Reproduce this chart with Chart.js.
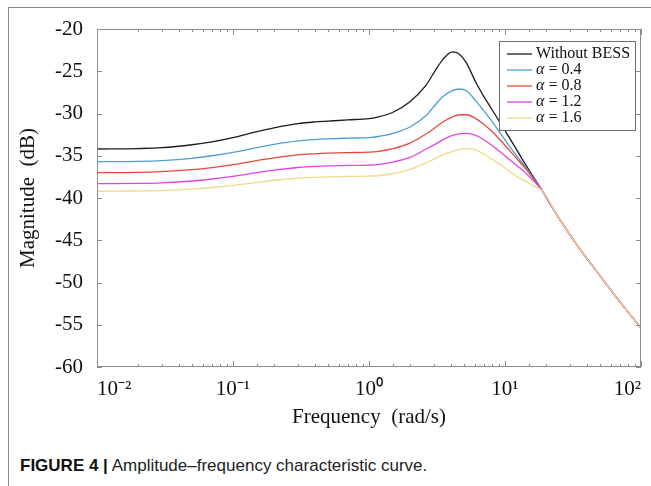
<!DOCTYPE html>
<html>
<head>
<meta charset="utf-8">
<script src="https://cdn.jsdelivr.net/npm/chart.js@4"></script>
<style>
  body { margin: 0; background: #fff; width: 651px; height: 486px; overflow: hidden; position: relative; }
  .frame { position: absolute; left: 8px; top: 7px; width: 700px; height: 520px; border-left: 1px solid #8a8a8a; border-top: 1px solid #8a8a8a; }
  #bode { position: absolute; left: 0; top: 0; }
  .caption { position: absolute; left: 20px; top: 456px; font-family: "Liberation Sans", Arial, sans-serif; font-size: 17px; color: #222; }
  .caption b { font-weight: bold; color: #111; }
</style>
</head>
<body>
<div class="frame"></div>
<canvas id="bode" width="651" height="430"></canvas>
<div class="caption"><b>FIGURE 4 |</b> Amplitude–frequency characteristic curve.</div>
<script>
// frequency points (rad/s)
const freq = [0.01, 0.02, 0.03, 0.05, 0.07, 0.1, 0.15, 0.2, 0.3, 0.4, 0.5, 0.7, 1, 1.14, 1.5, 2, 2.64, 3.1, 3.5, 4.1, 4.6, 5.2, 6.1, 7, 8, 9.3, 10.7, 12.3, 14.1, 16.3, 18.6, 24.5, 35, 50, 70, 100];

// magnitude (dB)
const noBess = [-34.2, -34.15, -34.05, -33.7, -33.35, -32.85, -32.15, -31.7, -31.2, -31.0, -30.9, -30.75, -30.6, -30.45, -29.85, -28.6, -26.6, -24.8, -23.6, -22.7, -22.95, -24.0, -26.3, -28.0, -29.5, -31.2, -32.8, -34.4, -36.0, -37.6, -39.05, -42.2, -45.9, -49.2, -52.3, -55.4];
const alpha04 = [-35.7, -35.66, -35.57, -35.3, -35.0, -34.6, -34.03, -33.65, -33.24, -33.08, -33.0, -32.92, -32.85, -32.75, -32.35, -31.6, -30.2, -28.9, -28.0, -27.3, -27.1, -27.3, -28.5, -29.7, -30.9, -32.4, -33.8, -35.1, -36.3, -37.7, -39.05, -42.2, -45.9, -49.2, -52.3, -55.4];
const alpha08 = [-37.0, -36.97, -36.88, -36.65, -36.4, -36.06, -35.57, -35.25, -34.9, -34.77, -34.7, -34.63, -34.57, -34.5, -34.15, -33.5, -32.4, -31.6, -31.0, -30.4, -30.15, -30.15, -30.6, -31.3, -32.1, -33.2, -34.3, -35.4, -36.5, -37.8, -39.05, -42.2, -45.9, -49.2, -52.3, -55.4];
const alpha12 = [-38.3, -38.27, -38.2, -37.99, -37.75, -37.44, -37.0, -36.7, -36.39, -36.26, -36.2, -36.15, -36.1, -36.05, -35.75, -35.2, -34.2, -33.6, -33.1, -32.6, -32.4, -32.35, -32.6, -33.1, -33.75, -34.6, -35.4, -36.2, -37.0, -38.0, -39.05, -42.2, -45.9, -49.2, -52.3, -55.4];
const alpha16 = [-39.2, -39.17, -39.12, -38.95, -38.76, -38.5, -38.15, -37.9, -37.65, -37.55, -37.5, -37.45, -37.4, -37.38, -37.1, -36.6, -35.8, -35.3, -34.9, -34.5, -34.25, -34.15, -34.3, -34.8, -35.4, -36.1, -36.8, -37.5, -38.0, -38.6, -39.1, -42.2, -45.9, -49.2, -52.3, -55.4];

const seriesNames = ['Without BESS', 'α = 0.4', 'α = 0.8', 'α = 1.2', 'α = 1.6'];
const seriesColors = ['#1c1c1c', '#4d9fd3', '#e5483b', '#e244e2', '#f0d98a'];

const yTicks = [-60, -55, -50, -45, -40, -35, -30, -25, -20];
const xTickExp = [-2, -1, 0, 1, 2];
const xTickText = ['10⁻²', '10⁻¹', '10⁰', '10¹', '10²'];

const serif = "'Liberation Serif', 'Times New Roman', serif";

const allSeries = [noBess, alpha04, alpha08, alpha12, alpha16];
const datasets = allSeries.map((vals, i) => ({
  label: seriesNames[i],
  data: freq.map((f, k) => ({ x: f, y: vals[k] })),
  borderColor: seriesColors[i],
  borderWidth: 1.3,
  pointRadius: 0,
  showLine: true,
  cubicInterpolationMode: 'monotone',
  order: i === 0 ? 10 : 5 - i
}));

function isDecade(v) {
  const e = Math.log10(v);
  return Math.abs(e - Math.round(e)) < 1e-6;
}

// box round the plot with inward ticks, matlab style
const axesBox = {
  id: 'axesBox',
  afterDatasetsDraw(chart) {
    const { ctx, chartArea: a, scales: { x, y } } = chart;
    ctx.save();
    ctx.strokeStyle = '#8c8c8c';
    ctx.lineWidth = 1;
    ctx.strokeRect(a.left + 0.5, a.top + 0.5, a.width - 1, a.height - 1);
    ctx.beginPath();
    x.ticks.forEach(t => {
      const px = Math.round(x.getPixelForValue(t.value)) + 0.5;
      const len = isDecade(t.value) ? 6 : 3;
      ctx.moveTo(px, a.bottom); ctx.lineTo(px, a.bottom - len);
      ctx.moveTo(px, a.top); ctx.lineTo(px, a.top + len);
    });
    yTicks.forEach(v => {
      const py = Math.round(y.getPixelForValue(v)) + 0.5;
      ctx.moveTo(a.left, py); ctx.lineTo(a.left + 5, py);
      ctx.moveTo(a.right, py); ctx.lineTo(a.right - 5, py);
    });
    ctx.stroke();
    ctx.restore();
  }
};

// legend box in the upper right corner
const legendBox = {
  id: 'legendBox',
  afterDraw(chart) {
    const { ctx, chartArea: a } = chart;
    const left = a.right - 142, top = a.top + 12, w = 136, h = 89;
    ctx.save();
    ctx.fillStyle = '#fff';
    ctx.fillRect(left, top, w, h);
    ctx.strokeStyle = '#6e6e6e';
    ctx.lineWidth = 1;
    ctx.strokeRect(left + 0.5, top + 0.5, w, h);
    ctx.textBaseline = 'middle';
    chart.data.datasets.forEach((ds, i) => {
      const cy = top + 13 + i * 16;
      ctx.strokeStyle = ds.borderColor;
      ctx.lineWidth = 1.3;
      ctx.beginPath();
      ctx.moveTo(left + 8, cy); ctx.lineTo(left + 33, cy);
      ctx.stroke();
      ctx.fillStyle = '#111';
      let tx = left + 37;
      let txt = ds.label;
      if (txt.startsWith('α')) {
        ctx.font = 'italic 16px ' + serif;
        ctx.fillText('α', tx, cy);
        tx += ctx.measureText('α').width;
        txt = txt.slice(1);
      }
      ctx.font = '16px ' + serif;
      ctx.fillText(txt, tx, cy);
    });
    ctx.restore();
  }
};

new Chart(document.getElementById('bode'), {
  type: 'scatter',
  data: { datasets: datasets },
  options: {
    responsive: false,
    animation: false,
    layout: { padding: { top: 29, right: 4, left: 0, bottom: 0 } },
    plugins: { legend: { display: false }, tooltip: { enabled: false } },
    scales: {
      x: {
        type: 'logarithmic',
        min: 0.01,
        max: 100,
        grid: { display: false, drawTicks: false },
        border: { display: false },
        ticks: {
          autoSkip: false,
          maxRotation: 0,
          padding: 10,
          align: 'inner',
          color: '#111',
          font: { family: serif, size: 21 },
          callback: (v) => {
            if (!isDecade(v)) return '';
            const idx = xTickExp.indexOf(Math.round(Math.log10(v)));
            return idx < 0 ? '' : xTickText[idx];
          }
        },
        title: {
          display: true,
          text: 'Frequency  (rad/s)',
          color: '#111',
          font: { family: serif, size: 21 },
          padding: { top: 0, bottom: 0 }
        },
        afterFit: (s) => { s.height = 63; }
      },
      y: {
        min: -60,
        max: -20,
        grid: { display: false, drawTicks: false },
        border: { display: false },
        ticks: {
          stepSize: 5,
          padding: 14,
          color: '#111',
          font: { family: serif, size: 21 }
        },
        title: {
          display: true,
          text: 'Magnitude  (dB)',
          color: '#111',
          font: { family: serif, size: 21 },
          padding: { top: 16, bottom: 0 }
        },
        afterFit: (s) => { s.width = 97; }
      }
    }
  },
  plugins: [axesBox, legendBox]
});
</script>
</body>
</html>
